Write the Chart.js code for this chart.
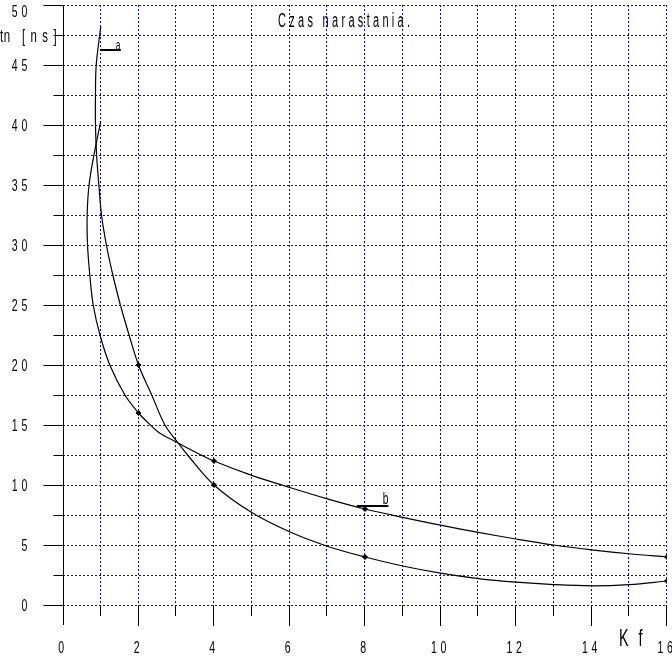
<!DOCTYPE html>
<html>
<head>
<meta charset="utf-8">
<title>Czas narastania</title>
<script src="https://cdn.jsdelivr.net/npm/chart.js@4"></script>
<style>
    html, body { margin: 0; padding: 0; background: #fff; }
</style>
</head>
<body>
<canvas id="riseChart" width="672" height="661"></canvas>
<script>
// --- Data ---
// curve a (steeper one, starts at the top near Kf = 1)
const kfCurveA = [1.0, 0.88, 0.86, 0.86, 0.89, 0.95, 1.02, 1.15, 1.32, 1.52, 1.75, 2.0, 2.35, 2.7, 3.05, 3.3, 4, 5, 6, 7, 8, 9, 10, 11, 12, 13, 14, 15, 16];
const tnCurveA = [48.2, 45, 42.5, 40, 37.5, 35, 32.5, 30, 27.5, 25, 22.5, 20, 17.5, 15, 13.5, 12.5, 10, 7.7, 6.1, 4.9, 4.0, 3.25, 2.65, 2.2, 1.9, 1.7, 1.6, 1.7, 2.0];
// curve b (bulges to the left, flatter on the right)
const kfCurveB = [1.0, 0.82, 0.69, 0.64, 0.65, 0.71, 0.8, 0.98, 1.24, 1.64, 2.0, 2.25, 2.55, 3.05, 3.5, 4, 5, 6, 7, 8, 9, 10, 11, 12, 13, 14, 15, 16];
const tnCurveB = [40.3, 37.5, 35, 32.5, 30, 27.5, 25, 22.5, 20, 17.5, 16, 15.2, 14.35, 13.5, 12.75, 12, 10.8, 9.8, 8.85, 8.0, 7.3, 6.65, 6.05, 5.5, 5.0, 4.6, 4.27, 4.0];
// measured points (markers)
const kfMeasured = [2, 4, 8, 16];
const tnMeasuredA = [20, 10, 4, 2];
const tnMeasuredB = [16, 12, 8, 4];

// axis ticks
const xTickLabels = [0, 2, 4, 6, 8, 10, 12, 14, 16];
const yTickLabels = [0, 5, 10, 15, 20, 25, 30, 35, 40, 45, 50];
const xMinorStep = 1;
const yMinorStep = 2.5;

// curve name markers: short bar + letter
const curveTags = [
    { text: 'a', x0: 0.98, x1: 1.53, y: 46.25, tx: 1.40 },
    { text: 'b', x0: 7.78, x1: 8.62, y: 8.25, tx: 8.47 }
];

const zip = (xs, ys) => xs.map((x, i) => ({ x: x, y: ys[i] }));

const FONT = '"Liberation Sans Narrow", "Arial Narrow", "Liberation Sans", sans-serif';

// condensed, letter-spaced text like the old plotter output
const drawNarrow = (ctx, text, x, y, size, align, spacing, sx) => {
    ctx.save();
    ctx.translate(x, y);
    ctx.scale(sx, 1);
    ctx.font = size + 'px ' + FONT;
    ctx.letterSpacing = spacing + 'px';
    ctx.textAlign = align;
    ctx.textBaseline = 'middle';
    ctx.fillStyle = '#000';
    ctx.fillText(text, 0, 0);
    ctx.restore();
};

const line = (ctx, x1, y1, x2, y2) => {
    ctx.beginPath();
    ctx.moveTo(x1, y1);
    ctx.lineTo(x2, y2);
    ctx.stroke();
};

// blue dotted grid, drawn under the curves
const plotterGrid = {
    id: 'plotterGrid',
    beforeDatasetsDraw(chart) {
        const { ctx, scales: { x, y } } = chart;
        ctx.save();
        ctx.strokeStyle = '#0000ff';
        ctx.lineWidth = 1;
        ctx.setLineDash([2, 2]);
        for (let v = xMinorStep; v <= x.max; v += xMinorStep) {
            const px = Math.round(x.getPixelForValue(v)) - 0.5;
            line(ctx, px, y.top, px, y.bottom);
        }
        for (let v = 0; v <= y.max; v += yMinorStep) {
            const py = Math.round(y.getPixelForValue(v)) + 0.5;
            line(ctx, x.left, py, x.right, py);
        }
        ctx.restore();
    }
};

const plotterAxes = {
    id: 'plotterAxes',
    afterDraw(chart) {
        const { ctx, scales: { x, y } } = chart;
        ctx.save();
        ctx.strokeStyle = '#000';
        ctx.lineWidth = 1;
        ctx.setLineDash([]);

        // vertical axis line, runs a bit below the plot
        const ax = Math.round(x.getPixelForValue(0)) + 0.5;
        line(ctx, ax, y.top, ax, y.bottom + 20);

        // x ticks hang below the zero line
        for (let v = xMinorStep; v <= x.max; v += xMinorStep) {
            const px = Math.round(x.getPixelForValue(v)) - 0.5;
            const major = xTickLabels.includes(v);
            line(ctx, px, y.bottom, px, y.bottom + (major ? 21 : 11));
        }
        // y ticks stick out to the left
        for (let v = 0; v <= y.max; v += yMinorStep) {
            const py = Math.round(y.getPixelForValue(v)) + 0.5;
            const major = yTickLabels.includes(v);
            line(ctx, major ? ax - 20 : ax - 10, py, ax, py);
        }

        // tick labels
        xTickLabels.forEach(v => {
            drawNarrow(ctx, String(v), x.getPixelForValue(v), y.bottom + 43, 17, 'center', 6, 0.62);
        });
        yTickLabels.forEach(v => {
            const py = Math.max(y.getPixelForValue(v), y.top + 6) + 1;
            drawNarrow(ctx, String(v), 31, py, 17, 'right', 6, 0.62);
        });

        // titles
        drawNarrow(ctx, 'Czas narastania.', 278, 21, 20, 'left', 6, 0.55);
        drawNarrow(ctx, 'tn', 0, 37, 19, 'left', 1, 0.6);
        drawNarrow(ctx, '[ns]', 22, 37, 19, 'left', 9, 0.6);
        drawNarrow(ctx, 'K f', 619, 639, 24, 'left', 5, 0.6);

        // curve letters
        drawNarrow(ctx, 'a', x.getPixelForValue(curveTags[0].tx), y.getPixelForValue(curveTags[0].y) - 4, 14, 'left', 0, 0.6);
        drawNarrow(ctx, 'b', x.getPixelForValue(curveTags[1].tx), y.getPixelForValue(curveTags[1].y) - 7, 17, 'left', 0, 0.6);

        ctx.restore();
    }
};

const curveStyle = {
    showLine: true,
    borderColor: '#000',
    borderWidth: 1.2,
    pointRadius: 0,
    tension: 0.35,
    fill: false
};
const markerStyle = {
    showLine: false,
    pointStyle: 'rectRot',
    pointRadius: 2.5,
    backgroundColor: '#000',
    borderColor: '#000',
    borderWidth: 1
};
const tagStyle = {
    showLine: true,
    borderColor: '#000',
    borderWidth: 2,
    pointRadius: 0,
    tension: 0
};

new Chart(document.getElementById('riseChart').getContext('2d'), {
    type: 'scatter',
    data: {
        datasets: [
            Object.assign({ label: 'a', data: zip(kfCurveA, tnCurveA) }, curveStyle),
            Object.assign({ label: 'b', data: zip(kfCurveB, tnCurveB) }, curveStyle),
            Object.assign({ label: 'a pts', data: zip(kfMeasured, tnMeasuredA) }, markerStyle),
            Object.assign({ label: 'b pts', data: zip(kfMeasured, tnMeasuredB) }, markerStyle),
            ...curveTags.map(t => Object.assign({ label: t.text + ' tag', data: [{ x: t.x0, y: t.y }, { x: t.x1, y: t.y }] }, tagStyle))
        ]
    },
    options: {
        responsive: false,
        animation: false,
        layout: { padding: { top: 5, right: 4, left: 0, bottom: 0 } },
        scales: {
            x: {
                type: 'linear',
                min: 0,
                max: 16,
                ticks: { stepSize: xMinorStep, display: false },
                grid: { display: false },
                border: { display: false },
                afterFit: s => { s.height = 56; }
            },
            y: {
                type: 'linear',
                min: 0,
                max: 50,
                ticks: { stepSize: yMinorStep, display: false },
                grid: { display: false },
                border: { display: false },
                afterFit: s => { s.width = 63; }
            }
        },
        plugins: {
            legend: { display: false },
            tooltip: { enabled: false }
        }
    },
    plugins: [plotterGrid, plotterAxes]
});
</script>
</body>
</html>
